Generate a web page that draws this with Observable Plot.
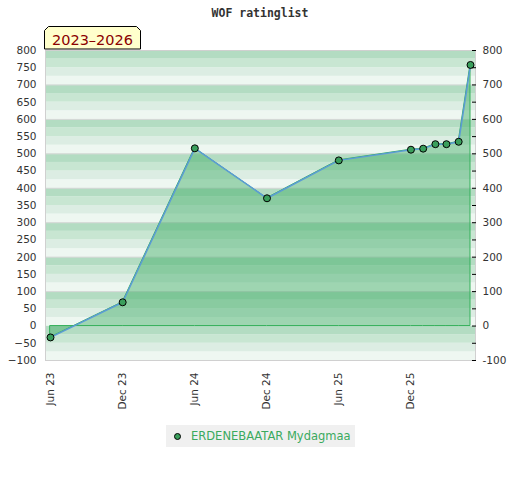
<!DOCTYPE html>
<html><head><meta charset="utf-8">
<script src="https://cdn.jsdelivr.net/npm/d3@7"></script>
<script src="https://cdn.jsdelivr.net/npm/@observablehq/plot@0.6"></script>
<style>
body{margin:0;background:#fff;font-family:"DejaVu Sans",sans-serif;}
#wrap{position:relative;width:520px;height:480px;}
#chart{position:absolute;left:0;top:0;}
#title{position:absolute;left:0;top:6px;width:520px;text-align:center;font:bold 11.5px "DejaVu Sans Mono",monospace;color:#333;}
#badge{position:absolute;left:44px;top:26px;}
#legend{position:absolute;left:166px;top:425px;width:189px;height:22px;background:#f0f0f0;}
#legend .dot{position:absolute;left:8px;top:8px;width:5px;height:5px;border-radius:50%;background:#3a9f5c;border:1px solid #000;}
#legend .txt{position:absolute;left:25px;top:4px;font:11.5px "DejaVu Sans",sans-serif;color:#3aaa5e;white-space:nowrap;}
</style>
</head><body>
<div id="wrap">
  <div id="chart"></div>
  <div id="title">WOF ratinglist</div>
  <svg id="badge" width="98" height="26">
    <polygon points="4.5,0.5 92.5,0.5 96.5,4.5 96.5,23 0.5,23 0.5,4.5" fill="#ffffcc" stroke="#000" stroke-width="1"/>
    <text x="48.5" y="18.5" text-anchor="middle" font-family="DejaVu Sans, sans-serif" font-size="14.5px" fill="#8b0000">2023–2026</text>
  </svg>
  <div id="legend"><span class="dot"></span><span class="txt">ERDENEBAATAR Mydagmaa</span></div>
</div>
<script>
const months = ["2023-06","2023-12","2024-06","2024-12","2025-06","2025-12","2026-01","2026-02","2026-03","2026-04","2026-05"];
const ratings = [-33, 69, 516, 371, 481, 512, 515, 528, 528, 535, 758];
const xTickMonths = ["2023-06","2023-12","2024-06","2024-12","2025-06","2025-12"];
const leftTicks = [-100,-50,0,50,100,150,200,250,300,350,400,450,500,550,600,650,700,750,800];
const rightTicks = leftTicks;
const gridLines = [-100,100,200,300,400,500,600,700,800];
const bandColors = ["#eef7f1","#dcede3","#c8e6d2","#b3dcc2"];
const seriesName = "ERDENEBAATAR Mydagmaa";

const parse = d3.utcParse("%Y-%m");
const data = months.map((m, i) => ({date: parse(m), rating: ratings[i]}));
const xTicks = xTickMonths.map(parse);
const bands = d3.range(-100, 800, 25).map(v => ({y1: v, y2: v + 25, fill: bandColors[(((v % 100) + 100) % 100) / 25]}));

const chart = Plot.plot({
  width: 520, height: 420,
  marginTop: 50, marginLeft: 45, marginRight: 45, marginBottom: 60,
  style: {fontFamily: "DejaVu Sans, sans-serif", fontSize: "10.5px", color: "#333", background: "transparent"},
  x: {type: "utc", domain: [data[0].date, data[data.length - 1].date], insetLeft: 5, insetRight: 5},
  y: {domain: [-100, 800]},
  color: {type: "identity"},
  marks: [
    Plot.rect(bands, {y1: "y1", y2: "y2", fill: "fill"}),
    Plot.ruleY(gridLines, {stroke: "#d9d9d9"}),
    Plot.areaY(data, {x: "date", y: "rating", fill: "#3caa64", fillOpacity: 0.45}),
    Plot.areaY(data, {x: "date", y: "rating", fill: "none", stroke: "#34b05a", strokeWidth: 1}),
    Plot.line(data, {x: "date", y: "rating", stroke: "#5b9bd5", strokeWidth: 1.5}),
    Plot.dot(data, {x: "date", y: "rating", r: 3.5, fill: "#3a9f5c", stroke: "#000", strokeWidth: 1}),
    Plot.frame({stroke: "#d0d0d0"}),
    Plot.axisY(leftTicks, {anchor: "left", tickSize: 0, tickPadding: 9, label: null}),
    Plot.axisY(rightTicks, {anchor: "right", tickSize: 4, dx: -4, tickPadding: 7, stroke: "#000",
      tickFormat: d => d % 100 === 0 ? String(d) : "", label: null}),
    Plot.axisX(xTicks, {tickRotate: -90, tickSize: 0, tickPadding: 12, tickFormat: d3.utcFormat("%b %y"), label: null})
  ]
});
document.getElementById("chart").appendChild(chart);
</script>
</body></html>
